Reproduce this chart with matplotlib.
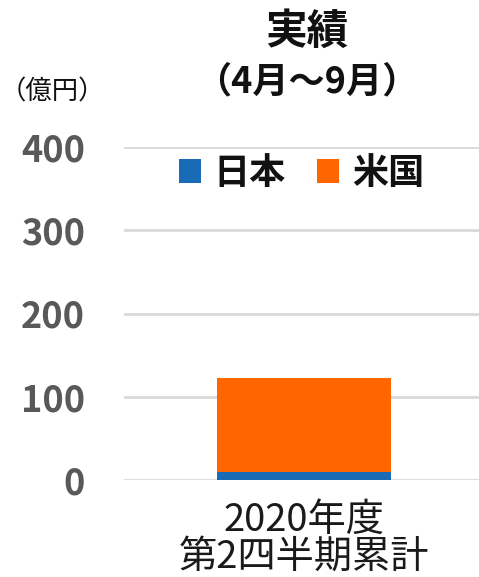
import matplotlib
matplotlib.use("Agg")
import matplotlib.pyplot as plt
import numpy as np

plt.rcParams['font.family'] = ['Noto Sans CJK JP', 'DejaVu Sans']

categories = ["2020年度\n第2四半期累計"]
japan = [10]
usa = [112]
series_names = ["日本", "米国"]
colors = ["#1a6bb5", "#ff6600"]
yticks = [0, 100, 200, 300, 400]

fig = plt.figure(figsize=(4.79, 5.77), dpi=100)
ax = fig.add_axes([124/479, 1-480/577, 1-124/479, (480-147)/577])

x = np.arange(len(categories))
ax.bar(x, japan, width=0.49, color=colors[0], label=series_names[0], zorder=3)
ax.bar(x, usa, width=0.49, bottom=japan, color=colors[1], label=series_names[1], zorder=3)

ax.set_xlim(-0.5 - 0.008, 0.5 - 0.008)
ax.set_ylim(0, 400)
ax.set_yticks(yticks)
ax.set_yticklabels([str(v) for v in yticks], fontsize=26, fontweight='bold', color='#595959')
ax.set_xticks(x)
ax.set_xticklabels(categories, fontsize=27.5, color='#1a1a1a', linespacing=0.92)
ax.tick_params(axis='y', length=0, pad=28)
ax.tick_params(axis='x', length=0, pad=15)
ax.grid(axis='y', color='#d9d9d9', linewidth=2, zorder=0)
ax.set_axisbelow(True)
for s in ax.spines.values():
    s.set_visible(False)

leg = ax.legend(loc='upper center', bbox_to_anchor=(0.5, 1.02), ncol=2, frameon=False,
                prop={'size': 26, 'weight': 'bold'}, handlelength=0.62, handleheight=0.62,
                handletextpad=0.35, columnspacing=0.85, borderaxespad=0.0)
for t in leg.get_texts():
    t.set_color('#111111')

fig.text(307/479, 1-32/577, "実績", ha='center', va='center', fontsize=30, fontweight='bold', color='#111111')
fig.text(307/479, 1-82/577, "（4月～9月）", ha='center', va='center', fontsize=26, fontweight='bold', color='#111111')
fig.text(52/479, 1-92/577, "（億円）", ha='center', va='center', fontsize=19, color='#111111')

fig.savefig("out.png", dpi=100)
